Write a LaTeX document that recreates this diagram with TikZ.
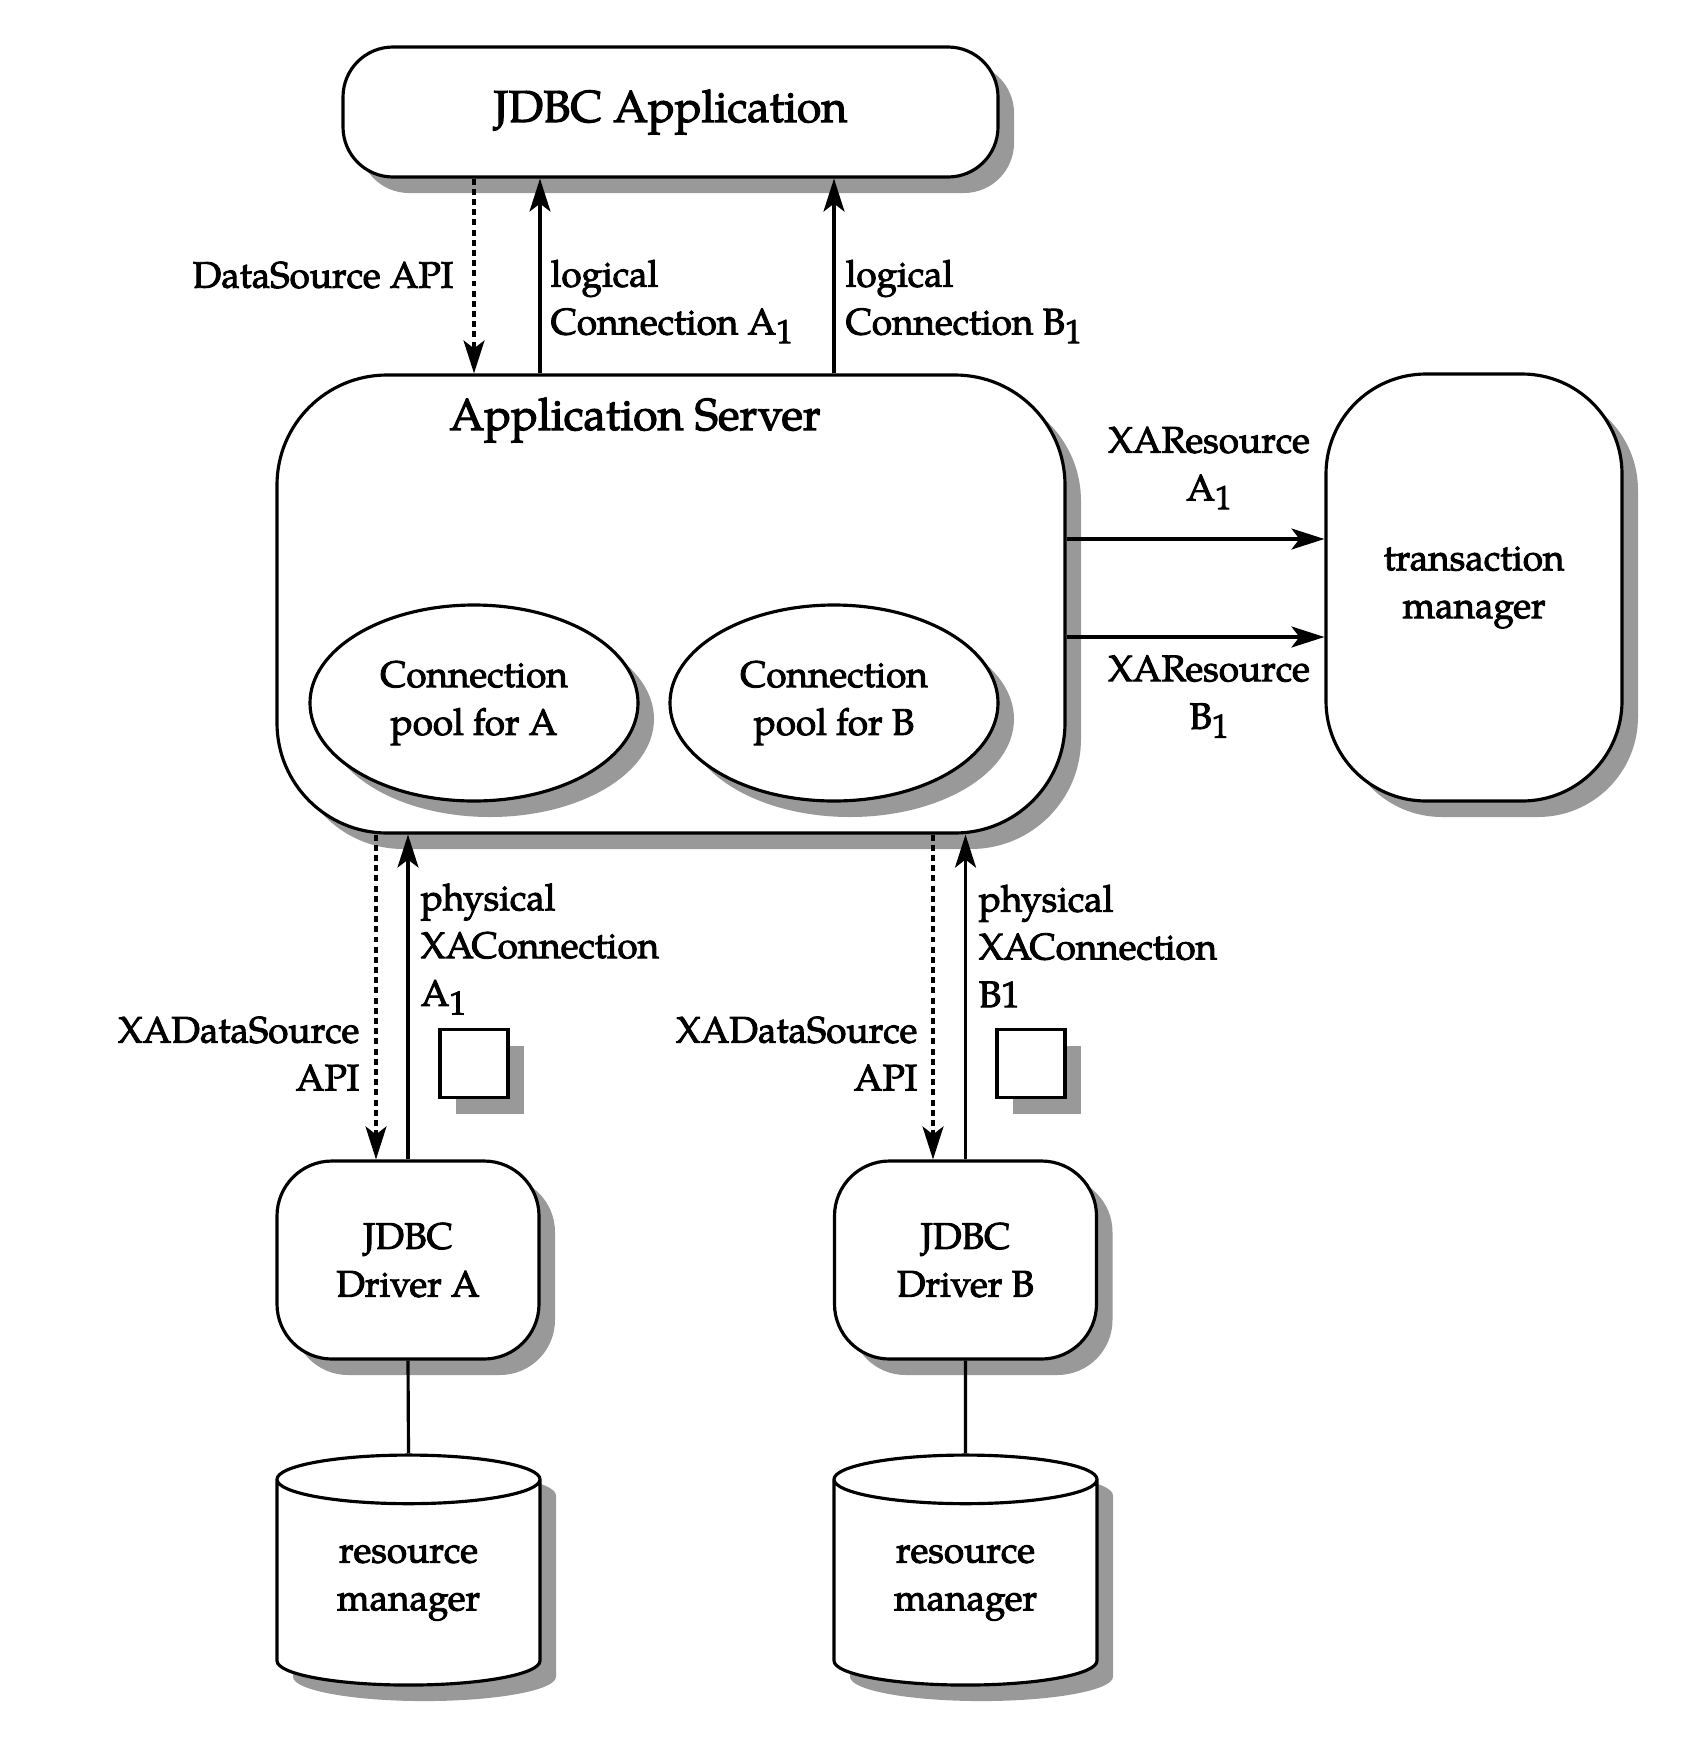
\documentclass[tikz,border=0pt]{standalone}
\usepackage{fontspec}
\setmainfont{TeX Gyre Pagella}[FakeBold=2.5]
\usepackage{tikz}
\usetikzlibrary{shapes.geometric,shadows,positioning,calc,arrows.meta}

\newcommand{\normsize}{\fontsize{10.5}{13.6}\selectfont}
\newcommand{\bigsize}{\fontsize{12.7}{15}\selectfont}
\newcommand{\subone}{\raisebox{-0.5ex}{\fontsize{9.5}{9.5}\selectfont 1}}

\tikzset{
  shade/.style={drop shadow={shadow xshift=0.16cm, shadow yshift=-0.16cm, fill=black!40, opacity=1}},
  box/.style={draw, line width=0.9pt, fill=white, shade, align=center, font=\normsize, inner sep=0pt},
  lbl/.style={font=\normsize, inner sep=0pt},
  arr/.style={line width=0.9pt, -{Stealth[length=3.3mm, width=2.1mm, inset=0.8mm]}},
  dsh/.style={arr, dash pattern=on 1.7pt off 1.2pt},
}

\begin{document}
\begin{tikzpicture}
    \useasboundingbox (0,0) rectangle (17.04,-17.46);

    % top and middle
    \node[box, rounded corners=0.5cm, minimum width=6.55cm, minimum height=1.30cm, font=\bigsize] (app) at (6.705,-1.12) {JDBC Application};
    \node[box, rounded corners=1.1cm, minimum width=7.88cm, minimum height=4.58cm] (server) at (6.71,-6.04) {};
    \node[lbl, font=\bigsize] (srvtitle) at (6.35,-4.20) {Application Server};
    \node[box, ellipse, minimum width=3.28cm, minimum height=1.96cm] (poolA) at (4.74,-7.03) {Connection\\pool for A};
    \node[box, ellipse, minimum width=3.28cm, minimum height=1.96cm] (poolB) at (8.34,-7.03) {Connection\\pool for B};
    \node[box, rounded corners=1.0cm, minimum width=2.96cm, minimum height=4.27cm] (tm) at (14.74,-5.875) {transaction\\manager};

    % drivers and resource managers
    \node[box, rounded corners=0.55cm, minimum width=2.62cm, minimum height=1.98cm] (drvA) at (4.08,-12.60) {JDBC\\Driver A};
    \node[box, rounded corners=0.55cm, minimum width=2.62cm, minimum height=1.98cm] (drvB) at (9.655,-12.60) {JDBC\\Driver B};
    \node[box, cylinder, shape border rotate=90, aspect=0.34, minimum width=2.63cm, minimum height=2.30cm] (rmA) at (4.085,-15.83) {resource\\manager};
    \node[box, cylinder, shape border rotate=90, aspect=0.34, minimum width=2.63cm, minimum height=2.30cm] (rmB) at (9.655,-15.83) {resource\\manager};
    \node[box, minimum size=0.68cm] (sqA) at (4.74,-10.635) {};
    \node[box, minimum size=0.68cm] (sqB) at (10.31,-10.635) {};

    \coordinate (la) at (5.40,0);
    \coordinate (xa) at (0,-5.39);
    \coordinate (xb) at (0,-6.37);

    % connectors
    \draw[dsh] (app.south -| poolA) -- (server.north -| poolA);
    \draw[arr] (server.north -| la) -- (app.south -| la);
    \draw[arr] (server.north -| poolB) -- (app.south -| poolB);
    \draw[arr] (server.east |- xa) -- (tm.west |- xa);
    \draw[arr] (server.east |- xb) -- (tm.west |- xb);
    \draw[dsh] ([xshift=-0.32cm]drvA.north |- server.south) -- ([xshift=-0.32cm]drvA.north);
    \draw[arr] (drvA.north) -- (drvA.north |- server.south);
    \draw[dsh] ([xshift=-0.325cm]drvB.north |- server.south) -- ([xshift=-0.325cm]drvB.north);
    \draw[arr] (drvB.north) -- (drvB.north |- server.south);
    \draw[line width=0.9pt] (drvA.south) -- (rmA.north);
    \draw[line width=0.9pt] (drvB.south) -- (rmB.north);

    % labels
    \node[lbl, anchor=east] (dslbl) at (4.54,-2.75) {DataSource API};
    \node[lbl, anchor=west, align=left] (lcA) at (5.50,-3.015) {logical\\Connection A\subone};
    \node[lbl, anchor=west, align=left] (lcB) at (8.45,-3.015) {logical\\Connection B\subone};
    \node[lbl, align=center] (xrA) at (12.09,-4.68) {XAResource\\A\subone};
    \node[lbl, align=center] (xrB) at (12.09,-6.965) {XAResource\\B\subone};
    \node[lbl, anchor=west, align=left] (phA) at (4.20,-9.49) {physical\\XAConnection\\A\subone};
    \node[lbl, anchor=west, align=left] (phB) at (9.78,-9.46) {physical\\XAConnection\\B1};
    \node[lbl, anchor=east, align=right] (xdA) at (3.60,-10.535) {XADataSource\\API};
    \node[lbl, anchor=east, align=right] (xdB) at (9.18,-10.535) {XADataSource\\API};
\end{tikzpicture}
\end{document}
